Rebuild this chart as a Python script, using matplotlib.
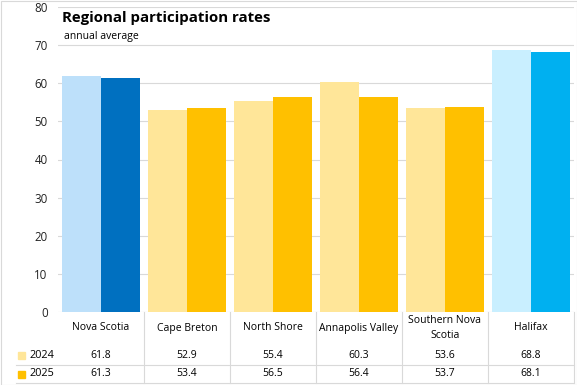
import matplotlib.pyplot as plt
import numpy as np

regions = ["Nova Scotia", "Cape Breton", "North Shore", "Annapolis Valley", "Southern Nova\nScotia", "Halifax"]
rate_2024 = [61.8, 52.9, 55.4, 60.3, 53.6, 68.8]
rate_2025 = [61.3, 53.4, 56.5, 56.4, 53.7, 68.1]
years = ["2024", "2025"]

# colours per region: (2024, 2025)
light = ["#BDE0FA", "#FFE699", "#FFE699", "#FFE699", "#FFE699", "#C9EFFF"]
dark = ["#0070C0", "#FFC000", "#FFC000", "#FFC000", "#FFC000", "#00B0F0"]

W, H = 577, 385
plt.rcParams['font.family'] = ['Open Sans', 'DejaVu Sans']
fig = plt.figure(figsize=(W / 100, H / 100), dpi=100)

def fx(px):
    return px / W

def fy(py):
    return 1 - py / H

left, right, top, bottom = 58, 574, 7, 312
ax = fig.add_axes([fx(left), fy(bottom), fx(right - left), (bottom - top) / H])

x = np.arange(len(regions))
bw = 0.45
ax.bar(x - bw / 2, rate_2024, bw, color=light, zorder=3)
ax.bar(x + bw / 2, rate_2025, bw, color=dark, zorder=3)

ax.set_xlim(-0.5, len(regions) - 0.5)
ax.set_ylim(0, 80)
ax.set_yticks(range(0, 81, 10))
ax.yaxis.grid(True, color="#D9D9D9", linewidth=0.8, zorder=0)
ax.set_xticks([])
for s in ax.spines.values():
    s.set_visible(False)
ax.tick_params(axis="y", length=0, pad=7.5, labelsize=8.3, labelcolor="#222222")

fig.text(fx(62), fy(18), "Regional participation rates", fontsize=10.8, fontweight="bold", va="center")
fig.text(fx(64), fy(36), "annual average", fontsize=7.5, va="center")

# data table below the axes
col_w = (right - left) / len(regions)
line_c = "#D9D9D9"
for k in range(1, len(regions) + 1):
    xx = left + col_w * k
    fig.add_artist(plt.Line2D([fx(xx), fx(xx)], [fy(312), fy(383)], color=line_c, lw=0.8))
fig.add_artist(plt.Line2D([fx(16), fx(right)], [fy(365), fy(365)], color=line_c, lw=0.8))
fig.add_artist(plt.Line2D([fx(16), fx(right)], [fy(383), fy(383)], color=line_c, lw=0.8))

for i, name in enumerate(regions):
    cx = left + col_w * (i + 0.5)
    fig.text(fx(cx), fy(328), name, ha="center", va="center", fontsize=7.5, linespacing=1.5)
    fig.text(fx(cx), fy(355), f"{rate_2024[i]:.1f}", ha="center", va="center", fontsize=7.5)
    fig.text(fx(cx), fy(374), f"{rate_2025[i]:.1f}", ha="center", va="center", fontsize=7.5)

for j, (yr, c) in enumerate(zip(years, ["#FFE699", "#FFC000"])):
    yy = 355 if j == 0 else 374
    fig.add_artist(plt.Rectangle((fx(18), fy(yy + 3.5)), fx(7), 7 / H, color=c))
    fig.text(fx(30), fy(yy), yr, ha="left", va="center", fontsize=7.8)

# chart border
fig.add_artist(plt.Rectangle((fx(0.5), fy(384.5)), fx(576), 384 / H, fill=False, edgecolor="#D9D9D9", lw=0.8))

fig.savefig("out.png", dpi=100)
